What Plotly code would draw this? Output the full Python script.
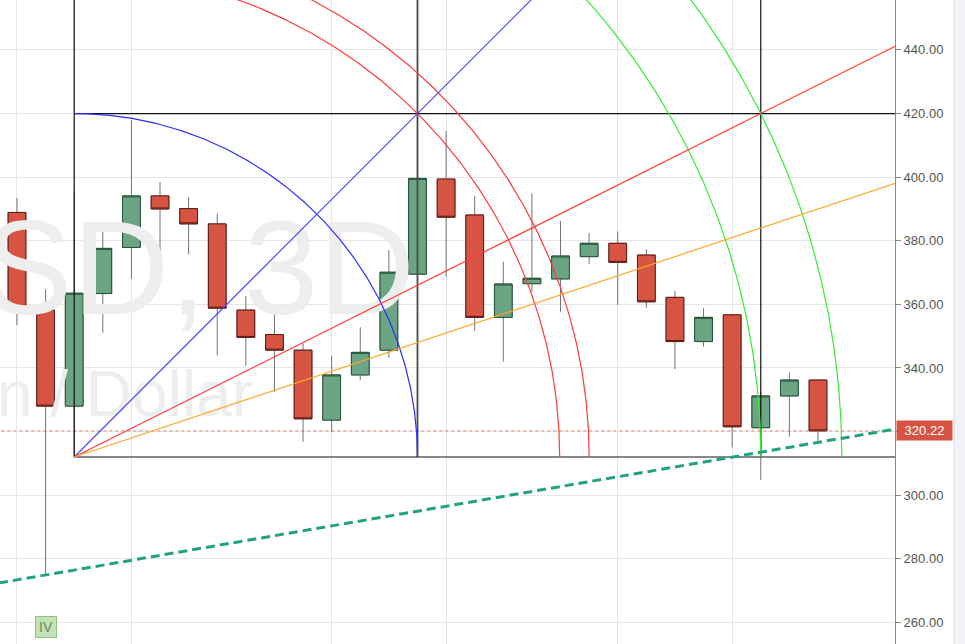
import numpy as np
import plotly.graph_objects as go

# ---------------- data ----------------
candle_idx = list(range(29))
opens  = [388.9, 358.2, 328.0, 363.4, 377.9, 394.1, 390.1, 385.3, 358.2, 350.5,
          345.6, 323.6, 337.8, 345.6, 369.5, 399.4, 388.1, 355.9, 366.5, 368.0,
          375.0, 379.2, 375.5, 362.2, 348.3, 356.7, 321.2, 331.2, 336.2]
highs  = [393.4, 364.7, 395.4, 383.1, 418.0, 398.4, 393.7, 388.6, 362.6, 357.2,
          347.7, 343.8, 352.8, 377.1, 425.0, 414.5, 394.1, 373.4, 394.9, 386.2,
          382.5, 382.9, 377.3, 364.2, 358.8, 357.0, 332.5, 338.6, 336.5]
lows   = [353.5, 274.9, 312.0, 351.1, 368.0, 370.0, 375.8, 343.9, 340.7, 332.5,
          316.8, 319.8, 336.2, 343.2, 364.0, 368.7, 351.6, 342.0, 364.0, 357.7,
          372.7, 359.8, 358.9, 339.6, 346.7, 315.0, 304.8, 318.4, 316.8]
closes = [358.2, 328.0, 363.5, 377.6, 394.1, 390.0, 385.3, 358.8, 349.6, 345.6,
          324.0, 337.8, 344.9, 370.1, 399.6, 387.4, 355.9, 366.4, 368.2, 375.2,
          379.2, 373.2, 360.8, 348.3, 355.9, 321.5, 331.2, 336.2, 320.22]

last_price = 320.22
y_ticks = [260, 280, 300, 320, 340, 360, 380, 400, 420, 440]
x_grid = [0, 4, 11, 15, 21, 25]

# Gann box drawing anchors
gann_x0 = 2
gann_y0 = 312.0
gann_dx = 12
gann_dy = 108.0
gann_cols = [2, 14, 26]
gann_col_colors = ["#111111", "#4a4a4a", "#111111"]
gann_col_widths = [1.2, 1.8, 1.2]
gann_rows = [312.0, 420.0]
arc_radii = [1.0, np.sqrt(2), 1.5, 2.0, np.sqrt(5)]
arc_colors = ["#2b2bff", "#ff3b3b", "#ff3b3b", "#33ee33", "#33ee33"]
fan_ratios = [1.0, 0.5, 1 / 3]
fan_colors = ["#4a4aff", "#ff3b3b", "#ffa630"]

# trend line anchors (dashed)
trend_x = [1, 28]
trend_y = [274.9, 316.6]

# watermark
wm_big = "LTCUSD, 3D"
wm_small = "Litecoin / Dollar"

x_min, x_max = -0.594, 30.692
y_min, y_max = 253.2, 455.7

up_fill, up_line = "#6ba583", "#225437"
dn_fill, dn_line = "#d75442", "#5b1a13"
wick_col = "#737375"

fig = go.Figure()

# watermark text (below everything)
fig.add_trace(go.Scatter(x=[13.91], y=[367.6], mode="text", text=[wm_big],
                         textposition="middle left", cliponaxis=True,
                         textfont=dict(size=134, color="#eeeeee",
                                       family="Liberation Sans, Arial"),
                         hoverinfo="skip"))
fig.add_trace(go.Scatter(x=[8.25], y=[330.0], mode="text", text=[wm_small],
                         textposition="middle left", cliponaxis=True,
                         textfont=dict(size=64, color="#eeeeee",
                                       family="Liberation Sans, Arial"),
                         hoverinfo="skip"))

def line(xs, ys, color, width=1.0, dash=None):
    fig.add_trace(go.Scatter(x=xs, y=ys, mode="lines", hoverinfo="skip",
                             line=dict(color=color, width=width, dash=dash)))

# price dotted line
line([x_min - 1, x_max + 1], [last_price, last_price], "rgba(215,84,66,0.7)", 1, "dot")

# Gann verticals
for cx, cc, cw in zip(gann_cols, gann_col_colors, gann_col_widths):
    line([cx, cx], [gann_y0, y_max + 20], cc, cw)
# Gann horizontals
for ry in gann_rows:
    line([gann_x0, x_max + 1], [ry, ry], "#111111", 1.2)

# arcs
t = np.linspace(0, np.pi / 2, 400)
for r, c in zip(arc_radii, arc_colors):
    line(gann_x0 + r * gann_dx * np.cos(t), gann_y0 + r * gann_dy * np.sin(t), c, 1.2)

# fan lines
for k, c in zip(fan_ratios, fan_colors):
    xe = x_max + 1
    line([gann_x0, xe], [gann_y0, gann_y0 + (xe - gann_x0) / gann_dx * gann_dy * k], c, 1.2)

# dashed trend line
slope = (trend_y[1] - trend_y[0]) / (trend_x[1] - trend_x[0])
xa, xb = x_min - 1, x_max + 1
line([xa, xb], [trend_y[0] + (xa - trend_x[0]) * slope, trend_y[0] + (xb - trend_x[0]) * slope],
     "#22a183", 3, "9px,5px")

# candles: wicks
fig.add_trace(go.Candlestick(x=candle_idx, open=opens, high=highs, low=lows, close=closes,
                             increasing=dict(line=dict(color=wick_col, width=1), fillcolor=wick_col),
                             decreasing=dict(line=dict(color=wick_col, width=1), fillcolor=wick_col),
                             whiskerwidth=0, hoverinfo="skip"))
# candles: bodies
body_hi = [max(o, c) for o, c in zip(opens, closes)]
body_lo = [min(o, c) for o, c in zip(opens, closes)]
fig.add_trace(go.Candlestick(x=candle_idx, open=opens, high=body_hi, low=body_lo, close=closes,
                             increasing=dict(line=dict(color=up_line, width=1), fillcolor=up_fill),
                             decreasing=dict(line=dict(color=dn_line, width=1), fillcolor=dn_fill),
                             whiskerwidth=0, hoverinfo="skip"))

fig.update_layout(
    width=965, height=644,
    margin=dict(l=0, r=70, t=0, b=0),
    paper_bgcolor="white", plot_bgcolor="white",
    showlegend=False, hovermode=False,
    boxgap=0.38, boxgroupgap=0,
    xaxis=dict(range=[x_min, x_max], tickvals=x_grid, showticklabels=False,
               showgrid=True, gridcolor="#e6e6e6", gridwidth=1, zeroline=False,
               showline=False, ticks="", rangeslider=dict(visible=False), fixedrange=True),
    yaxis=dict(range=[y_min, y_max], side="right", tickvals=y_ticks, tickformat=".2f",
               showgrid=True, gridcolor="#e6e6e6", gridwidth=1, zeroline=False,
               showline=True, linecolor="#8a8a8a", linewidth=1,
               ticks="outside", ticklen=5, tickcolor="#8a8a8a",
               tickfont=dict(size=13, color="#555555", family="Liberation Sans, Arial"),
               fixedrange=True),
)

# last price label
fig.add_annotation(xref="paper", yref="y", x=1, y=last_price, xanchor="left", yanchor="middle",
                   text="320.22", showarrow=False, xshift=1,
                   font=dict(size=13, color="white", family="Liberation Sans, Arial"),
                   bgcolor="#d75442", width=51, height=15, borderpad=2)
# Elliott label
fig.add_annotation(xref="x", yref="y", x=1, y=258.5, text="IV", showarrow=False,
                   font=dict(size=14, color="#5f8f50", family="Liberation Sans, Arial"),
                   bgcolor="#c5e1b9", bordercolor="#8fc47a", borderwidth=1,
                   width=18, height=18, borderpad=1)

# right side panel edge
fig.add_shape(type="rect", xref="paper", yref="paper", x0=954 / 895, x1=1.09, y0=-0.01, y1=1.01,
              fillcolor="#f2f3f8", line=dict(color="#dcdde3", width=1))

fig.write_html("out.html", config={"displayModeBar": False},
               post_script="document.body.style.margin='0px';document.body.style.overflow='hidden';")
